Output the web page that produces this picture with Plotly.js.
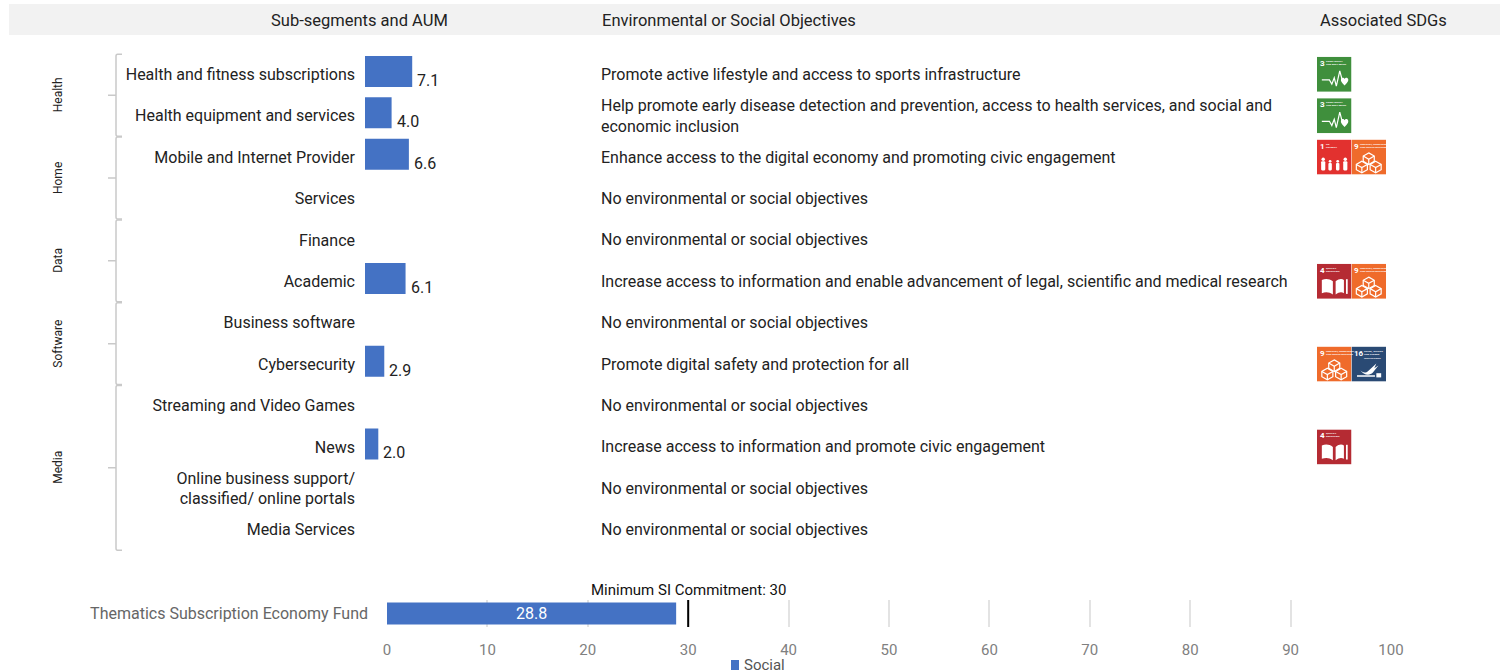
<!DOCTYPE html>
<html><head><meta charset="utf-8">
<script src="https://cdn.plot.ly/plotly-3.0.1.min.js"></script>
<style>html,body{margin:0;padding:0;background:#fff;overflow:hidden}#c{width:1504px;height:672px}</style>
</head><body><div id="c"></div>
<script>
const subSegments = ["Health and fitness subscriptions","Health equipment and services","Mobile and Internet Provider","Services","Finance","Academic","Business software","Cybersecurity","Streaming and Video Games","News","Online business support/<br>classified/ online portals","Media Services"];
const aum = [7.1,4.0,6.6,null,null,6.1,null,2.9,null,2.0,null,null];
const objectives = ["Promote active lifestyle and access to sports infrastructure",
"Help promote early disease detection and prevention, access to health services, and social and<br>economic inclusion",
"Enhance access to the digital economy and promoting civic engagement",
"No environmental or social objectives","No environmental or social objectives",
"Increase access to information and enable advancement of legal, scientific and medical research",
"No environmental or social objectives","Promote digital safety and protection for all",
"No environmental or social objectives","Increase access to information and promote civic engagement",
"No environmental or social objectives","No environmental or social objectives"];
const rowSDGs = [[3],[3],[1,9],[],[],[4,9],[],[9,16],[],[4],[],[]];
const groups = ["Health","Home","Data","Software","Media"];
const groupFirstRow = [0,2,4,6,8];
const groupLastRow = [1,3,5,7,11];
const headers = ["Sub-segments and AUM","Environmental or Social Objectives","Associated SDGs"];
const fundName = ["Thematics Subscription Economy Fund"];
const fundSocial = [28.8];
const minCommitment = 30;
const axisTicks = [0,10,20,30,40,50,60,70,80,90,100];

const W=1504,H=672;
const px=x=>x/W, py=y=>1-y/H;
const BLUE='#4472C4', TXT='#222222';
const COND={family:'Roboto, "Liberation Sans Narrow", sans-serif',stretch:'condensed'};
const rowY=i=>74.3+41.4*i;

const sdgInfo={
 1:{c:'#E2312F',cap:'NO<br>POVERTY',g:'<g fill="#fff"><circle cx="18" cy="56" r="5"/><rect x="12" y="62" width="12" height="26" rx="3"/><circle cx="38" cy="62" r="4"/><rect x="33" y="67" width="10" height="21" rx="3"/><circle cx="60" cy="62" r="4"/><rect x="55" y="67" width="10" height="21" rx="3"/><circle cx="82" cy="56" r="5"/><rect x="76" y="62" width="12" height="26" rx="3"/></g>'},
 3:{c:'#3F8F3C',cap:'GOOD HEALTH<br>AND WELL-BEING',g:'<path d="M14 66H36L43 78L50 60L56 84L66 40L73 66" fill="none" stroke="#fff" stroke-width="3.5"/><path d="M80 82C70 72 68 68 70 63C72 58 78 59 80 63C82 59 88 58 90 63C92 68 90 72 80 82Z" fill="#fff"/>'},
 4:{c:'#B52B33',cap:'QUALITY<br>EDUCATION',g:'<path d="M46 50C36 42 24 42 14 46V84C24 80 36 80 46 88ZM54 50C64 42 72 42 78 46V84C72 80 64 80 54 88Z" fill="#fff"/><rect x="84" y="44" width="5" height="42" fill="#fff"/>'},
 9:{c:'#EF6B2B',cap:'INDUSTRY, INNOVATION<br>AND INFRASTRUCTURE',g:'<g fill="none" stroke="#fff" stroke-width="3.5"><path d="M50 38L66 47V62L50 71L34 62V47Z"/><path d="M34 47L50 56L66 47M50 56V71"/><path d="M30 62L46 71V86L30 95L14 86V71Z"/><path d="M14 71L30 80L46 71M30 80V95"/><path d="M70 62L86 71V86L70 95L54 86V71Z"/><path d="M54 71L70 80L86 71M70 80V95"/></g>'},
 16:{c:'#2A4A74',cap:'PEACE, JUSTICE<br>AND STRONG<br>INSTITUTIONS',g:'<path d="M24 66C32 76 44 76 50 68L72 48L66 62L78 54L62 74C52 84 36 82 24 66Z" fill="#fff"/><path d="M16 84H68" stroke="#fff" stroke-width="4"/><rect x="72" y="76" width="14" height="12" fill="#fff"/>'}
};
const iconUri=n=>'data:image/svg+xml;utf8,'+encodeURIComponent('<svg xmlns="http://www.w3.org/2000/svg" viewBox="0 0 100 100" width="100" height="100"><rect width="100" height="100" fill="'+sdgInfo[n].c+'"/>'+sdgInfo[n].g+'</svg>');

const shapes=[],annotations=[],images=[];
shapes.push({type:'rect',xref:'paper',yref:'paper',x0:px(9),x1:px(1500),y0:py(4),y1:py(35),fillcolor:'#F2F2F2',line:{width:0},layer:'below'});
const hdrX=[269,600,1318];
headers.forEach((t,i)=>annotations.push({xref:'paper',yref:'paper',x:px(hdrX[i]),y:py(20),text:t,showarrow:false,xanchor:'left',yanchor:'middle',font:{...COND,size:16.5,color:TXT}}));

// Group brackets
groups.forEach((g,i)=>{
  const top=rowY(groupFirstRow[i])-20, bot=rowY(groupLastRow[i])+20.5, mid=(top+bot)/2;
  const X=o=>px(116+o), Y=v=>py(v);
  shapes.push({type:'path',xref:'paper',yref:'paper',line:{color:'#C9C9C9',width:1.5},
    path:`M${X(6)},${Y(top)} L${X(1.5)},${Y(top)} Q${X(0)},${Y(top)} ${X(0)},${Y(top+2)} L${X(0)},${Y(bot-2)} Q${X(0)},${Y(bot)} ${X(1.5)},${Y(bot)} L${X(6)},${Y(bot)} M${X(-8)},${Y(mid)} L${X(0)},${Y(mid)}`});
  annotations.push({xref:'paper',yref:'paper',x:px(58),y:py(mid),text:g,textangle:-90,showarrow:false,xanchor:'center',yanchor:'middle',font:{...COND,size:12,color:TXT}});
});

// Objectives
objectives.forEach((t,i)=>annotations.push({xref:'paper',yref:'y',x:px(599),y:i,text:t,showarrow:false,xanchor:'left',yanchor:'middle',align:'left',font:{...COND,size:16,color:TXT}}));
// Value labels
aum.forEach((v,i)=>{ if(v!==null) annotations.push({xref:'x',yref:'y',x:v,y:i,text:v.toFixed(1),showarrow:false,xanchor:'left',yanchor:'middle',xshift:3,yshift:-6,font:{...COND,size:16,color:TXT}}); });

// SDG icons
rowSDGs.forEach((list,i)=>list.forEach((n,k)=>{
  const x0=1317+34.5*k, y0=rowY(i)-17.5;
  images.push({source:iconUri(n),xref:'paper',yref:'paper',x:px(x0),y:py(y0),sizex:34.5/W,sizey:35/H,xanchor:'left',yanchor:'top',sizing:'stretch',layer:'above'});
  annotations.push({xref:'paper',yref:'paper',x:px(x0+1.5),y:py(y0+1),text:String(n),showarrow:false,xanchor:'left',yanchor:'top',borderpad:0,font:{family:'Roboto',size:8,color:'#fff',weight:700}});
  annotations.push({xref:'paper',yref:'paper',x:px(x0+(n>9?11:7.5)),y:py(y0+2),text:sdgInfo[n].cap,showarrow:false,xanchor:'left',yanchor:'top',align:'left',borderpad:0,font:{family:'Roboto',size:2.5,color:'#fff',weight:700}});
}));

// Bottom chart extras
shapes.push({type:'line',xref:'x2',yref:'paper',x0:minCommitment,x1:minCommitment,y0:py(600),y1:py(627),line:{color:'#000',width:2}});
annotations.push({xref:'x2',yref:'paper',x:minCommitment,y:py(590),text:'Minimum SI Commitment: '+minCommitment,showarrow:false,xanchor:'center',yanchor:'middle',font:{family:'Roboto',size:15,color:'#111'}});
annotations.push({xref:'x2',yref:'y2',x:fundSocial[0]/2,y:0,text:fundSocial[0].toFixed(1),showarrow:false,font:{...COND,size:16,color:'#fff'}});
shapes.push({type:'rect',xref:'paper',yref:'paper',x0:px(731),x1:px(739),y0:py(660),y1:py(670),fillcolor:BLUE,line:{width:0}});
annotations.push({xref:'paper',yref:'paper',x:px(742),y:py(665),text:'Social',showarrow:false,xanchor:'left',yanchor:'middle',font:{...COND,size:15,color:'#555'}});

const traces=[
 {type:'bar',orientation:'h',x:aum,y:subSegments.map((_,i)=>i),width:0.75,offset:-0.445,marker:{color:BLUE},xaxis:'x',yaxis:'y',hoverinfo:'x+y',showlegend:false},
 {type:'bar',orientation:'h',name:'Social',x:fundSocial,y:fundName,width:0.815,marker:{color:BLUE},xaxis:'x2',yaxis:'y2',showlegend:false}
];
const layout={width:W,height:H,margin:{l:0,r:0,t:0,b:0,pad:0},paper_bgcolor:'#fff',plot_bgcolor:'rgba(0,0,0,0)',showlegend:false,barmode:'overlay',
 xaxis:{domain:[px(365),px(431.5)],range:[0,10],visible:false,fixedrange:true,anchor:'y'},
 yaxis:{domain:[py(550.4),py(53.6)],range:[11.5,-0.5],tickvals:subSegments.map((_,i)=>i),ticktext:subSegments,ticks:'',showgrid:false,zeroline:false,showline:false,ticklabelstandoff:9,tickfont:{...COND,size:16,color:TXT},anchor:'x',automargin:false},
 xaxis2:{domain:[px(387),px(1391)],range:[0,100],tickvals:axisTicks,showgrid:true,gridcolor:'#E3E3E3',gridwidth:2,zeroline:false,showline:false,ticks:'',ticklabelstandoff:12,tickfont:{...COND,size:15,color:'#808080'},anchor:'y2'},
 yaxis2:{domain:[py(627),py(600)],type:'category',ticks:'',showgrid:false,zeroline:false,showline:false,ticklabelstandoff:18,tickfont:{family:'Roboto',size:16,color:'#666'},anchor:'x2',automargin:false},
 shapes,annotations,images};
Plotly.newPlot('c',traces,layout,{displayModeBar:false,responsive:false});
</script></body></html>
